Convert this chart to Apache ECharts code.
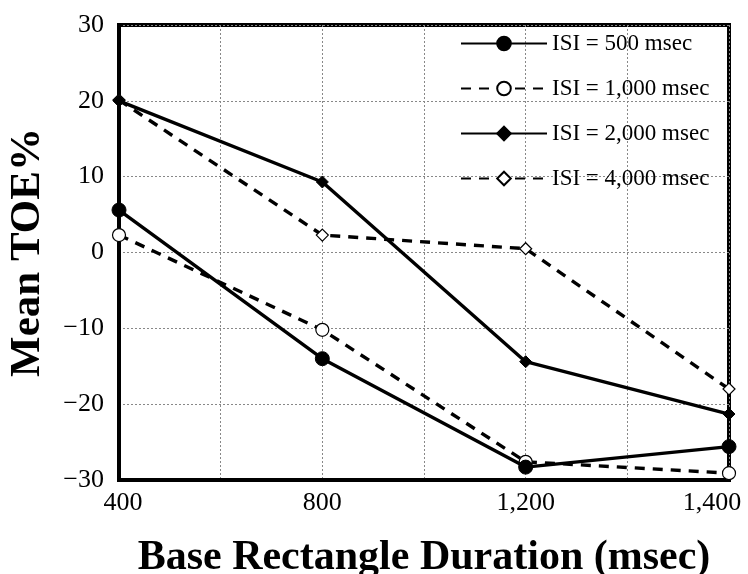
<!DOCTYPE html>
<html>
<head>
<meta charset="utf-8">
<script src="https://cdn.jsdelivr.net/npm/echarts@6/dist/echarts.min.js"></script>
<style>
  html, body { margin: 0; padding: 0; background: #fff; }
  #chart { width: 748px; height: 574px; }
</style>
</head>
<body>
<div id="chart"></div>
<script>
// Base rectangle durations, drawn at evenly spaced positions 0..3
const durationLabels = ['400', '800', '1,200', '1,400'];

// Mean TOE% per ISI condition
const isi500  = [5.6, -14.0, -28.3, -25.6];
const isi1000 = [2.3, -10.2, -27.6, -29.1];
const isi2000 = [20.0, 9.3, -14.4, -21.3];
const isi4000 = [20.1, 2.3, 0.5, -18.0];

const seriesNames = ['ISI = 500 msec', 'ISI = 1,000 msec', 'ISI = 2,000 msec', 'ISI = 4,000 msec'];

const yTicks = { min: -30, max: 30, step: 10 };

const FONT = 'Liberation Serif';

function toPoints(values) {
  return values.map((v, i) => [i, v]);
}

function lineSeries(name, values, opts) {
  return {
    name: name,
    type: 'line',
    data: toPoints(values),
    clip: false,
    symbol: opts.symbol,
    symbolSize: opts.size,
    showSymbol: true,
    lineStyle: { color: '#000', width: 3.4, type: opts.dashed ? [10, 8] : 'solid' },
    itemStyle: opts.filled
      ? { color: '#000', borderColor: '#000', borderWidth: 1 }
      : { color: '#fff', borderColor: '#000', borderWidth: 1.2 },
    emphasis: { disabled: true },
    z: opts.z
  };
}

// Tick text along the duration axis; the last one is nudged inward so it stays on the page
function durationTick(v) {
  if (!Number.isInteger(v)) return '';
  const label = durationLabels[v];
  if (v === 0) return '{first|' + label + '}';
  if (v === durationLabels.length - 1) return '{last|' + label + '}';
  return label;
}

const chart = echarts.init(document.getElementById('chart'), null, { renderer: 'canvas' });

chart.setOption({
  animation: false,
  backgroundColor: '#fff',
  textStyle: { fontFamily: FONT, color: '#000' },
  grid: {
    left: 119, right: 19, top: 25, bottom: 94,
    outerBoundsMode: 'none',
    containLabel: false,
    show: true, borderColor: '#000', borderWidth: 4, backgroundColor: 'transparent'
  },
  legend: {
    orient: 'vertical',
    left: 455,
    top: 26,
    itemWidth: 86,
    itemHeight: 17,
    itemGap: 20,
    data: seriesNames,
    textStyle: { fontFamily: FONT, fontSize: 23, color: '#000', lineHeight: 25 }
  },
  xAxis: {
    type: 'value',
    min: 0,
    max: 3,
    interval: 0.5,
    name: 'Base Rectangle Duration (msec)',
    nameLocation: 'middle',
    nameGap: 57,
    nameTextStyle: { fontFamily: FONT, fontSize: 42, fontWeight: 'bold', color: '#000' },
    axisLine: { show: true, onZero: false, lineStyle: { color: '#000', width: 4 } },
    axisTick: { show: false },
    axisLabel: {
      fontFamily: FONT, fontSize: 26, color: '#000', margin: 10,
      formatter: durationTick,
      rich: {
        first: { fontFamily: FONT, fontSize: 26, color: '#000', padding: [0, 0, 0, 8] },
        last: { fontFamily: FONT, fontSize: 26, color: '#000', padding: [0, 34, 0, 0] }
      }
    },
    splitLine: { show: true, lineStyle: { color: '#888', width: 1, type: [2, 2] } }
  },
  yAxis: {
    type: 'value',
    min: yTicks.min,
    max: yTicks.max,
    interval: yTicks.step,
    name: 'Mean TOE%',
    nameLocation: 'middle',
    nameGap: 70,
    nameTextStyle: { fontFamily: FONT, fontSize: 43, fontWeight: 'bold', color: '#000' },
    axisLine: { show: true, onZero: false, lineStyle: { color: '#000', width: 4 } },
    axisTick: { show: false },
    axisLabel: {
      fontFamily: FONT, fontSize: 26, color: '#000', margin: 15,
      formatter: v => (v < 0 ? '\u2212' + Math.abs(v) : String(v))
    },
    splitLine: { show: true, lineStyle: { color: '#888', width: 1, type: [2, 2] } }
  },
  series: [
    lineSeries(seriesNames[0], isi500,  { symbol: 'circle',  size: 14, filled: true,  dashed: false, z: 5 }),
    lineSeries(seriesNames[1], isi1000, { symbol: 'circle',  size: 13, filled: false, dashed: true,  z: 4 }),
    lineSeries(seriesNames[2], isi2000, { symbol: 'diamond', size: 12, filled: true,  dashed: false, z: 3 }),
    lineSeries(seriesNames[3], isi4000, { symbol: 'diamond', size: 12, filled: false, dashed: true,  z: 2 })
  ]
});
</script>
</body>
</html>
